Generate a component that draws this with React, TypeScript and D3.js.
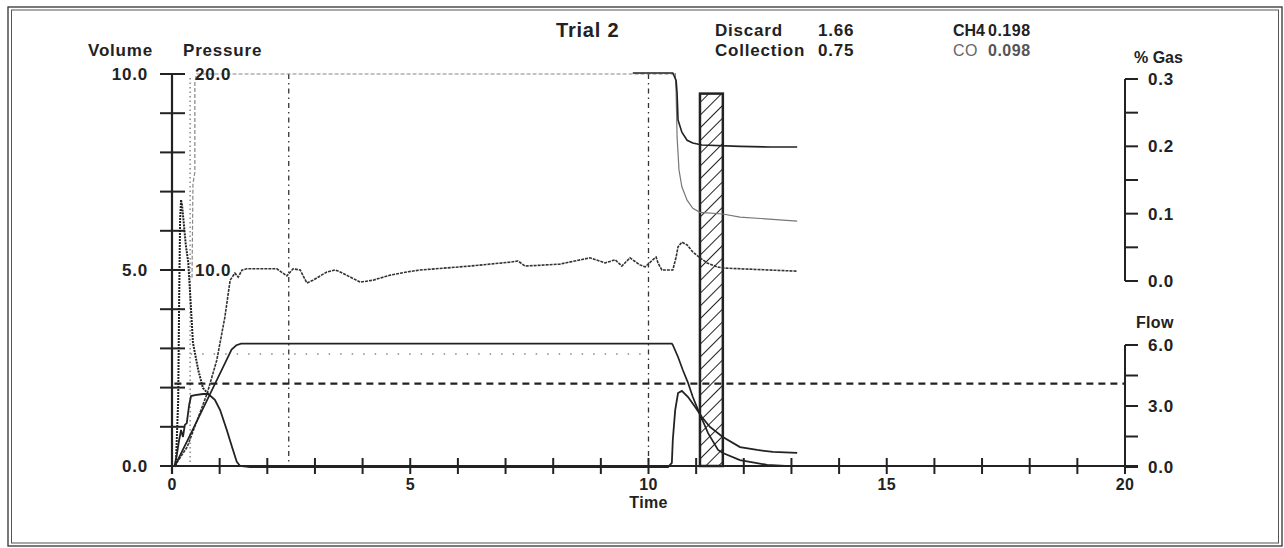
import React, { useEffect } from 'react';
import * as d3 from 'd3';

type Pt = [number, number];

// time (s) vs value
const volume: Pt[] = [
  [0.06, 0], [0.4, 0.84], [0.8, 1.84], [1.1, 2.59], [1.25, 2.97], [1.35, 3.08], [1.45, 3.12],
  [5.0, 3.12], [10.49, 3.12], [10.51, 3.09], [10.62, 2.78], [10.72, 2.45], [10.83, 2.12],
  [10.93, 1.76], [11.04, 1.43], [11.25, 0.84], [11.46, 0.41], [11.56, 0.33], [11.92, 0.15],
  [12.49, 0.03], [12.97, 0],
];

const flow: Pt[] = [
  [0.05, 0], [0.1, 0.59], [0.15, 1.33], [0.19, 1.82], [0.23, 1.48], [0.27, 2.07], [0.31, 2.16],
  [0.36, 3.05], [0.4, 3.49], [0.48, 3.54], [0.65, 3.59], [0.76, 3.59], [0.9, 3.3], [1.01, 2.8],
  [1.15, 1.82], [1.26, 0.98], [1.36, 0.25], [1.43, 0.05], [1.64, 0], [10.41, 0], [10.49, 0.2],
  [10.51, 1.33], [10.56, 2.8], [10.62, 3.64], [10.7, 3.74], [10.83, 3.44], [10.98, 2.95],
  [11.12, 2.46], [11.29, 1.97], [11.56, 1.48], [11.92, 0.98], [12.28, 0.84], [12.61, 0.74],
  [13.12, 0.69],
];

// inspiratory spike, on the volume scale
const spike: Pt[] = [
  [0.08, 0], [0.13, 1.68], [0.15, 4.23], [0.17, 6.28], [0.19, 6.79], [0.21, 6.66], [0.25, 6.15],
  [0.29, 5.64], [0.34, 5.2], [0.38, 4.41], [0.44, 3.14], [0.55, 2.45], [0.65, 1.99], [0.76, 1.84],
];

// middle trace (volume scale)
const tracer: Pt[] = [
  [0.1, 0.08], [0.32, 0.49], [0.53, 1.17], [0.74, 1.86], [0.94, 2.7], [1.11, 3.8], [1.22, 4.74],
  [1.32, 4.92], [1.39, 4.82], [1.47, 5.0], [1.57, 5.03], [2.2, 5.03], [2.41, 4.85], [2.54, 5.03],
  [2.69, 5.0], [2.83, 4.67], [2.96, 4.74], [3.25, 4.95], [3.42, 5.0], [3.53, 4.95], [3.74, 4.82],
  [3.95, 4.69], [4.22, 4.74], [4.58, 4.87], [4.93, 4.95], [5.21, 5.0], [6.25, 5.1], [7.09, 5.2],
  [7.26, 5.23], [7.41, 5.1], [8.14, 5.15], [8.77, 5.31], [9.09, 5.18], [9.3, 5.26], [9.44, 5.1],
  [9.61, 5.31], [9.82, 5.13], [9.93, 5.08], [10.09, 5.26], [10.16, 5.33], [10.2, 5.18],
  [10.28, 5.0], [10.51, 5.0], [10.58, 5.33], [10.62, 5.59], [10.7, 5.71], [10.81, 5.64],
  [10.93, 5.46], [11.08, 5.31], [11.23, 5.18], [11.44, 5.08], [11.56, 5.05], [13.12, 4.97],
];

const pressure: Pt[] = [
  [0.42, 9.6], [0.44, 14.4], [0.48, 15.0], [0.48, 19.6], [0.52, 20], [10.56, 20],
];

const ch4: Pt[] = [
  [9.67, 0.309], [10.51, 0.309], [10.58, 0.298], [10.6, 0.279], [10.62, 0.239], [10.7, 0.221],
  [10.81, 0.209], [10.93, 0.205], [11.12, 0.202], [11.92, 0.2], [12.55, 0.199], [13.12, 0.199],
];

const co: Pt[] = [
  [10.56, 0.309], [10.58, 0.279], [10.6, 0.214], [10.64, 0.165], [10.7, 0.14], [10.81, 0.12],
  [10.93, 0.108], [11.08, 0.102], [11.56, 0.0995], [11.92, 0.095], [13.12, 0.089],
];

const targetVolume: Pt[] = [[0.15, 2.86], [9.9, 2.86], [9.96, 2.78]];
const flowThreshold = 4.1;
const eventTimes = [2.45, 10.0];
const markerTimes = [0.38];
const sampleWindow = [11.08, 11.56];
const sampleTop = 9.5;

const volumeLabels = [0, 5, 10];
const pressureLabels = [10, 20];
const gasLabels = [0, 0.1, 0.2, 0.3];
const flowTicks = [0, 1.5, 3, 4.5, 6];
const flowLabels = [0, 3, 6];
const timeLabels = [0, 5, 10, 15, 20];

const FONT = "'Liberation Sans', Arial, sans-serif";
const INK = '#222';

export default function App() {
  useEffect(() => {
    document.body.style.margin = '0';
  }, []);

  const x = d3.scaleLinear().domain([0, 20]).range([172, 1125]);
  const yVol = d3.scaleLinear().domain([0, 10]).range([466, 74]);
  const yPres = d3.scaleLinear().domain([0, 20]).range([466, 74]);
  const yGas = d3.scaleLinear().domain([0, 0.3]).range([281, 79]);
  const yFlow = d3.scaleLinear().domain([0, 6]).range([467, 345]);
  const fmt = d3.format('.1f');

  const lineOn = (ys: d3.ScaleLinear<number, number>) =>
    d3.line<Pt>().x(d => x(d[0])).y(d => ys(d[1]));

  const label = { fontFamily: FONT, fontWeight: 700, fontSize: 17, letterSpacing: 0.8, fill: INK } as const;
  const tickLen = 13;

  return (
    <svg width={1284} height={548} style={{ display: 'block', background: '#fff' }}>
      <defs>
        <pattern id="hatch" patternUnits="userSpaceOnUse" width={9} height={9} patternTransform="rotate(45)">
          <line x1={0} y1={0} x2={0} y2={9} stroke={INK} strokeWidth={2} />
        </pattern>
      </defs>

      {/* frame */}
      <rect x={8} y={7} width={1274} height={539} fill="none" stroke="#333" strokeWidth={1.3} />
      <rect x={11.5} y={10} width={1267} height={533} fill="none" stroke="#555" strokeWidth={1} />

      {/* header */}
      <text x={556} y={37} {...label} fontSize={20}>Trial 2</text>
      <text x={715} y={36} {...label}>Discard</text>
      <text x={818} y={36} {...label}>1.66</text>
      <text x={715} y={56} {...label}>Collection</text>
      <text x={818} y={56} {...label}>0.75</text>
      <text x={953} y={36} {...label} fontSize={16} letterSpacing={0}>CH4</text>
      <text x={988} y={36} {...label} fontSize={16} letterSpacing={0.5}>0.198</text>
      <text x={953} y={56} {...label} fontSize={16} letterSpacing={0.5} fontWeight={400} fill="#666">CO</text>
      <text x={988} y={56} {...label} fontSize={16} letterSpacing={0.5} fill="#555">0.098</text>

      <text x={88} y={56} {...label}>Volume</text>
      <text x={183} y={56} {...label}>Pressure</text>
      <text x={1134} y={63} {...label} fontSize={16} letterSpacing={0}>% Gas</text>
      <text x={1136} y={328} {...label} fontSize={16} letterSpacing={0.3}>Flow</text>

      {/* reference lines */}
      {eventTimes.map(t => (
        <line key={t} x1={x(t)} x2={x(t)} y1={yVol(10)} y2={yVol(0)}
          stroke="#333" strokeWidth={1.3} strokeDasharray="5,4,1.5,4" />
      ))}
      {markerTimes.map(t => (
        <line key={t} x1={x(t)} x2={x(t)} y1={yVol(9.9)} y2={yVol(0)}
          stroke="#777" strokeWidth={1.3} strokeDasharray="1.5,3" />
      ))}
      <path d={lineOn(yVol)(targetVolume) ?? ''} fill="none" stroke="#888" strokeWidth={1.5} strokeDasharray="1.5,10" />
      <line x1={x(0.05)} x2={x(20)} y1={yFlow(flowThreshold)} y2={yFlow(flowThreshold)}
        stroke={INK} strokeWidth={2.2} strokeDasharray="7,5" />

      {/* collection window */}
      <rect x={x(sampleWindow[0])} y={yVol(sampleTop)} width={x(sampleWindow[1]) - x(sampleWindow[0])}
        height={yVol(0) - yVol(sampleTop)} fill="url(#hatch)" stroke={INK} strokeWidth={2.5} />

      {/* traces */}
      <path d={lineOn(yPres)(pressure) ?? ''} fill="none" stroke="#888" strokeWidth={1.2} strokeDasharray="4,2" />
      <path d={lineOn(yGas)(co) ?? ''} fill="none" stroke="#777" strokeWidth={1.2} />
      <path d={lineOn(yGas)(ch4) ?? ''} fill="none" stroke={INK} strokeWidth={1.6} />
      <path d={lineOn(yVol)(tracer) ?? ''} fill="none" stroke="#333" strokeWidth={1.6} strokeDasharray="3,1" />
      <path d={lineOn(yVol)(volume) ?? ''} fill="none" stroke={INK} strokeWidth={1.7} />
      <path d={lineOn(yFlow)(flow) ?? ''} fill="none" stroke={INK} strokeWidth={1.8} />
      <path d={lineOn(yVol)(spike) ?? ''} fill="none" stroke={INK} strokeWidth={2} strokeDasharray="2,1" />

      {/* left axis: volume / pressure */}
      <line x1={x(0)} x2={x(0)} y1={yVol(10)} y2={yVol(0) + 8} stroke={INK} strokeWidth={2.2} />
      {yVol.ticks(10).map(v => (
        <line key={v} x1={x(0) - 12} x2={x(0) + 13} y1={yVol(v)} y2={yVol(v)} stroke={INK} strokeWidth={2} />
      ))}
      {volumeLabels.map(v => (
        <text key={v} x={148} y={yVol(v)} dy="0.35em" textAnchor="end" {...label}>{fmt(v)}</text>
      ))}
      {pressureLabels.map(p => (
        <text key={p} x={195} y={yPres(p)} dy="0.35em" {...label}>{fmt(p)}</text>
      ))}

      {/* time axis */}
      <line x1={x(0)} x2={x(20) + tickLen} y1={yVol(0)} y2={yVol(0)} stroke={INK} strokeWidth={2.2} />
      {x.ticks(20).map(t => (
        <line key={t} x1={x(t)} x2={x(t)} y1={yVol(0) - 8} y2={yVol(0) + 8} stroke={INK} strokeWidth={2} />
      ))}
      {timeLabels.map(t => (
        <text key={t} x={x(t)} y={490} textAnchor="middle" {...label} fontSize={16} letterSpacing={0.3}>{t}</text>
      ))}
      <text x={x(10)} y={508} textAnchor="middle" {...label} fontSize={16} letterSpacing={0.3}>Time</text>

      {/* right axis: % gas */}
      <line x1={x(20)} x2={x(20)} y1={yGas(0.3)} y2={yGas(0)} stroke={INK} strokeWidth={2} />
      {yGas.ticks(6).map(g => (
        <line key={g} x1={x(20)} x2={x(20) + tickLen} y1={yGas(g)} y2={yGas(g)} stroke={INK} strokeWidth={2} />
      ))}
      {gasLabels.map(g => (
        <text key={g} x={1148} y={yGas(g)} dy="0.35em" {...label}>{fmt(g)}</text>
      ))}

      {/* right axis: flow */}
      <line x1={x(20)} x2={x(20)} y1={yFlow(6)} y2={yFlow(0)} stroke={INK} strokeWidth={2} />
      {flowTicks.map(f => (
        <line key={f} x1={x(20)} x2={x(20) + tickLen} y1={yFlow(f)} y2={yFlow(f)} stroke={INK} strokeWidth={2} />
      ))}
      {flowLabels.map(f => (
        <text key={f} x={1148} y={yFlow(f)} dy="0.35em" {...label}>{fmt(f)}</text>
      ))}
    </svg>
  );
}
